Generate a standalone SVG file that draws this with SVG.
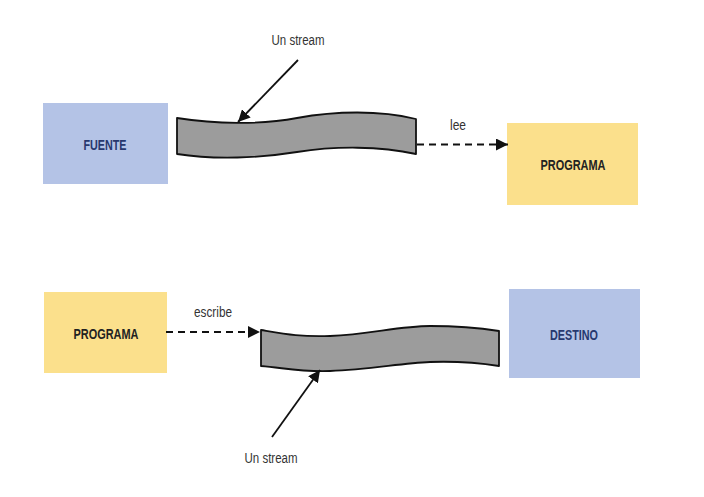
<svg xmlns="http://www.w3.org/2000/svg" width="704" height="497" viewBox="0 0 704 497">
<style>
.blue{fill:#b4c3e6}
.yellow{fill:#fbe08c}
.nt{font-family:"Liberation Sans",Arial,sans-serif;font-weight:bold;font-size:15px;text-anchor:middle}
.navy{fill:#27386e}
.dark{fill:#222222}
.lbl{font-family:"Liberation Sans",Arial,sans-serif;font-size:14px;fill:#333333;text-anchor:middle}
.stream{fill:#9c9c9c;stroke:#111111;stroke-width:1.8;stroke-linejoin:round}
.solid{stroke:#111111;stroke-width:1.8;fill:none}
.dash{stroke:#111111;stroke-width:2;fill:none;stroke-dasharray:7 5}
</style>
<defs>
<marker id="ah2" viewBox="0 0 10 10" refX="10" refY="5" markerWidth="12" markerHeight="12" markerUnits="userSpaceOnUse" orient="auto">
<path d="M0,0 L10,5 L0,10 Z" fill="#111111"/>
</marker>
</defs>
<rect width="704" height="497" fill="#ffffff"/>

<g id="fuente">
<rect class="blue" x="43" y="103" width="125" height="81"/>
<text class="nt navy" x="105" y="149.5" textLength="43" lengthAdjust="spacingAndGlyphs">FUENTE</text>
</g>

<g id="stream-top">
<path class="stream" d="M177,118 C215,124 260,125 297,118 C335,111 380,110 416,119 L416,154 C380,146 335,146 297,152 C260,158 215,160 177,154 Z"/>
</g>

<g id="programa-top">
<rect class="yellow" x="507" y="123" width="131" height="82"/>
<text class="nt dark" x="573" y="169.5" textLength="65" lengthAdjust="spacingAndGlyphs">PROGRAMA</text>
</g>

<g id="programa-bottom">
<rect class="yellow" x="44" y="292" width="123" height="81"/>
<text class="nt dark" x="106" y="338.5" textLength="65" lengthAdjust="spacingAndGlyphs">PROGRAMA</text>
</g>

<g id="stream-bottom">
<path class="stream" d="M261,330 C285,334 300,337 330,336 C370,334 400,326 430,326 C460,326 480,328 499,331 L499,366 C480,363 460,361 430,362 C400,363 370,370 330,371 C300,372 285,368 261,366 Z"/>
</g>

<g id="destino">
<rect class="blue" x="509" y="289" width="131" height="89"/>
<text class="nt navy" x="574" y="339.5" textLength="48" lengthAdjust="spacingAndGlyphs">DESTINO</text>
</g>

<g id="labels">
<text class="lbl" x="298" y="45" textLength="53" lengthAdjust="spacingAndGlyphs">Un stream</text>
<text class="lbl" x="271" y="463" textLength="53" lengthAdjust="spacingAndGlyphs">Un stream</text>
<text class="lbl" x="458" y="130" textLength="16" lengthAdjust="spacingAndGlyphs">lee</text>
<text class="lbl" x="213" y="317" textLength="38" lengthAdjust="spacingAndGlyphs">escribe</text>
</g>

<g id="connectors">
<line class="solid" x1="298" y1="60" x2="238" y2="122" marker-end="url(#ah2)"/>
<line class="solid" x1="272" y1="437" x2="320" y2="370" marker-end="url(#ah2)"/>
<line class="dash" x1="417" y1="144.5" x2="508" y2="144.5" marker-end="url(#ah2)"/>
<line class="dash" x1="166" y1="332" x2="260" y2="332" marker-end="url(#ah2)"/>
</g>
</svg>
